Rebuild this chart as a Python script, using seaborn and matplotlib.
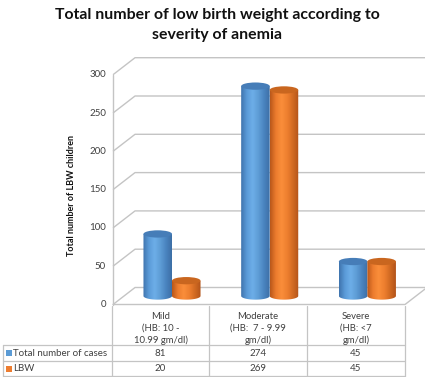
import numpy as np
import pandas as pd
import matplotlib
matplotlib.use("Agg")
import matplotlib.pyplot as plt
from matplotlib.patches import Ellipse, PathPatch, Rectangle
from matplotlib.path import Path
from matplotlib.colors import LinearSegmentedColormap
import seaborn as sns

# ---- data ---------------------------------------------------------------
categories = ["Mild", "Moderate", "Severe"]
category_labels = ["Mild\n(HB: 10 -\n10.99 gm/dl)",
                   "Moderate\n(HB:  7 - 9.99\ngm/dl)",
                   "Severe\n(HB: <7\ngm/dl)"]
series_names = ["Total number of cases", "LBW"]
total_cases = [81, 274, 45]
lbw = [20, 269, 45]
y_ticks = [0, 50, 100, 150, 200, 250, 300]

title = "Total number of low birth weight according to\nseverity of anemia"
y_label = "Total number of LBW children"

df = pd.DataFrame({
    "category": categories * 2,
    "series": [series_names[0]] * 3 + [series_names[1]] * 3,
    "value": total_cases + lbw,
})

# ---- style --------------------------------------------------------------
sns.set_theme(style="white")
plt.rcParams["font.family"] = ["Lato", "DejaVu Sans"]

W, H = 425, 377
fig = plt.figure(figsize=(W / 100, H / 100), dpi=100)
fig.patch.set_facecolor("white")

base_colors = {"Total number of cases": "#5B9BD5", "LBW": "#ED7D31"}
body_ramps = {
    "Total number of cases": ["#3F74AE", "#5B9BD8", "#6DAEE8", "#5E9DD6", "#4A84C0", "#3D6FA6"],
    "LBW": ["#B9571A", "#EC7C2E", "#FA8E3A", "#EE7F2F", "#D16A22", "#B3541A"],
}
top_colors = {"Total number of cases": "#467DB8", "LBW": "#C9661F"}
grid_color = "#C4C4C4"
text_color = "#404040"

# chart axes (value units vertically, category units horizontally)
px_left, px_right, px_top, px_bottom = 95, 425, 50, 310
ax = fig.add_axes([px_left / W, 1 - px_bottom / H,
                   (px_right - px_left) / W, (px_bottom - px_top) / H])
ax.set_facecolor("none")

bar_w = 0.584
sns.barplot(data=df, x="category", y="value", hue="series",
            order=categories, hue_order=series_names,
            palette=base_colors, width=bar_w, saturation=1,
            legend=False, ax=ax, zorder=3)

x0_px, px_per_cat = 172.0, 97.7
base_py, px_per_unit = 296.0, 0.766
ax.set_xlim((px_left - x0_px) / px_per_cat, (px_right - x0_px) / px_per_cat)
ax.set_ylim((base_py - px_bottom) / px_per_unit, (base_py - px_top) / px_per_unit)
ax.axis("off")

# depth offsets of the 3-D box (front = minus, back = plus)
dx = 11 / px_per_cat
dy = 8.5 / px_per_unit
mid_left = -0.491
front_left, back_left = mid_left - dx, mid_left + dx
front_right = 2.385
back_right = front_right + 2 * dx

# walls: side-wall diagonals and back-wall gridlines
for v in y_ticks:
    ax.plot([front_left, back_left, back_right], [v - dy, v + dy, v + dy],
            color=grid_color, lw=1.0, zorder=1, solid_capstyle="butt")
    ax.text((106 - x0_px) / px_per_cat, v - dy, str(v), ha="right", va="center",
            fontsize=7, color=text_color)
# front vertical edge and floor
ax.plot([front_left, front_left], [-dy, y_ticks[-1] - dy], color=grid_color, lw=1.0, zorder=1)
ax.plot([front_left, front_right, back_right], [-dy, -dy, dy],
        color=grid_color, lw=1.0, zorder=1, clip_on=False)

# cylinders: shaded body, rounded bottom and darker top cap
ell_h = 9.5
for bar, (series, value) in zip(ax.patches, zip(df["series"], df["value"])):
    x, w, h = bar.get_x(), bar.get_width(), bar.get_height()
    bar.set_visible(False)
    t = np.linspace(np.pi, 2 * np.pi, 40)
    xs = x + w / 2 + (w / 2) * np.cos(t)
    ys = (ell_h / 2) * np.sin(t)
    verts = list(zip(xs, ys)) + [(x + w, h), (x, h), (xs[0], ys[0])]
    codes = [Path.MOVETO] + [Path.LINETO] * (len(verts) - 2) + [Path.CLOSEPOLY]
    body = PathPatch(Path(verts, codes), facecolor="none", edgecolor="none", zorder=3)
    ax.add_patch(body)
    cmap = LinearSegmentedColormap.from_list("c", body_ramps[series])
    grad = np.linspace(0, 1, 64).reshape(1, -1)
    im = ax.imshow(grad, cmap=cmap, aspect="auto", zorder=3,
                   extent=[x, x + w, -ell_h / 2, h], origin="lower",
                   interpolation="bilinear")
    im.set_clip_path(body)
    ax.add_patch(Ellipse((x + w / 2, h), w, ell_h, facecolor=top_colors[series],
                         edgecolor="none", zorder=4))

ax.set_xlim((px_left - x0_px) / px_per_cat, (px_right - x0_px) / px_per_cat)
ax.set_ylim((base_py - px_bottom) / px_per_unit, (base_py - px_top) / px_per_unit)

# title and axis label
fig.text(217 / W, 1 - 25 / H, title, ha="center", va="center",
         fontsize=11.4, fontweight="bold", color="#111111", linespacing=1.5)
fig.text(72 / W, 1 - 196 / H, y_label, rotation=90, ha="center", va="center",
         fontsize=6.5, fontweight="bold", color="#111111")

# data table underneath the chart (pixel coordinates)
tab = fig.add_axes([0, 0, 1, 1], zorder=-1)
tab.set_xlim(0, W)
tab.set_ylim(H, 0)
tab.axis("off")
tab.set_facecolor("none")

col_edges = [112, 209, 307, 405]
row_edges = [345, 361, 376]
for xe in col_edges:
    tab.plot([xe, xe], [306, row_edges[-1]], color=grid_color, lw=0.9)
tab.plot([3, 3], [row_edges[0], row_edges[-1]], color=grid_color, lw=0.9)
for ye in row_edges:
    tab.plot([3, col_edges[-1]], [ye, ye], color=grid_color, lw=0.9)

col_centers = [(a + b) / 2 for a, b in zip(col_edges[:-1], col_edges[1:])]
for cx, lab in zip(col_centers, category_labels):
    tab.text(cx, 328.5, lab, ha="center", va="center", fontsize=6.8,
             color=text_color, linespacing=1.4)

for r, (name, vals) in enumerate(zip(series_names, [total_cases, lbw])):
    cy = (row_edges[r] + row_edges[r + 1]) / 2
    tab.add_patch(Rectangle((6, cy - 3), 6, 6, facecolor=base_colors[name], edgecolor="none"))
    tab.text(13.5, cy, name, ha="left", va="center", fontsize=7, color=text_color)
    for cx, v in zip(col_centers, vals):
        tab.text(cx, cy, str(v), ha="center", va="center", fontsize=7, color=text_color)

fig.savefig("out.png", dpi=100, facecolor="white")
